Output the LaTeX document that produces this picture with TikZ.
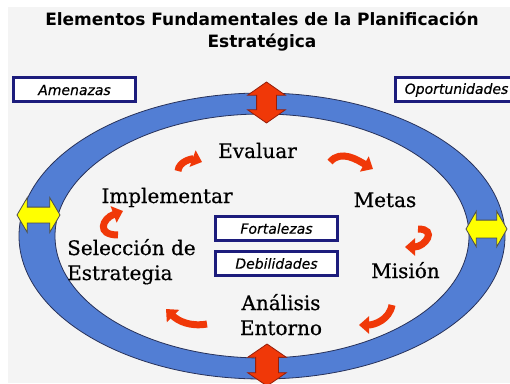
\documentclass[tikz,border=0pt]{standalone}
\usepackage{fontspec}
\setmainfont{DejaVu Serif}
\setsansfont{DejaVu Sans}
\newfontfamily\stagefont[FakeBold=0.6]{DejaVu Serif}
\newfontfamily\tagfont[FakeBold=0.4]{DejaVu Sans Oblique}
\usetikzlibrary{arrows.meta,positioning,shapes.arrows}
\definecolor{bggray}{RGB}{244,244,244}
\definecolor{ringblue}{RGB}{82,126,212}
\definecolor{ringedge}{RGB}{40,50,90}
\definecolor{tagblue}{RGB}{28,28,124}
\definecolor{turnred}{RGB}{240,56,8}
\definecolor{twinedge}{RGB}{150,30,10}
\definecolor{twinyellow}{RGB}{255,255,0}
\tikzset{
  heading/.style = {align=center, font=\sffamily\bfseries\fontsize{17}{22}\selectfont},
  tag/.style     = {draw=tagblue, line width=3pt, fill=white, minimum width=122pt, minimum height=24pt, inner sep=0pt, font=\tagfont\fontsize{14}{16}\selectfont},
  stage/.style   = {inner sep=0pt, align=left, font=\stagefont\fontsize{20}{25}\selectfont},
  turn/.style    = {draw=turnred, line width=7pt, -{Triangle[length=10pt,width=17pt]}},
  twin/.style    = {double arrow, inner xsep=0pt, line width=0.8pt},
}

\begin{document}
\begin{tikzpicture}[x=1pt,y=1pt]
    \useasboundingbox (0,0) rectangle (510,383);
    % Background
    \fill[white] (0,0) rectangle (510,383);
    \fill[bggray] (8,0) rectangle (510,376);

    % Ring
    \filldraw[even odd rule, fill=ringblue, draw=ringedge, line width=0.8pt]
      (262,147) ellipse [x radius=243, y radius=143]
      (262,147) ellipse [x radius=207, y radius=122];

    % Double arrows on the ring
    \node[twin, fill=turnred, draw=twinedge, rotate=90, minimum height=41pt, minimum width=37pt, inner ysep=9.5pt, double arrow head extend=9pt, double arrow tip angle=110] (topgate) at (266.5,280.5) {};
    \node[twin, fill=turnred, draw=twinedge, rotate=90, minimum height=42pt, minimum width=38pt, inner ysep=11pt, double arrow head extend=8pt, double arrow tip angle=111] (bottomgate) at (267,18) {};
    \node[twin, fill=twinyellow, draw=black!70, minimum height=43pt, minimum width=34pt, inner ysep=7.5pt, double arrow head extend=9.5pt, double arrow tip angle=119] (leftgate) at (38.5,168) {};
    \node[twin, fill=twinyellow, draw=black!70, minimum height=41pt, minimum width=35pt, inner ysep=8.5pt, double arrow head extend=9pt, double arrow tip angle=120] (rightgate) at (486.5,154) {};

    % Title
    \node[heading] (title) at (262,351) {Elementos Fundamentales de la Planificación\\Estratégica};

    % Tags
    \node[tag] (amenazas) at (74.5,293) {Amenazas};
    \node[tag] (oportunidades) at (456.5,293) {Oportunidades};
    \node[tag] (fortalezas) at (276.5,154.5) {Fortalezas};
    \node[tag, below=8pt of fortalezas] (debilidades) {Debilidades};

    % Stages of the cycle
    \node[stage, anchor=base] (evaluar) at (257.5,225) {Evaluar};
    \node[stage, anchor=base] (metas) at (385,176) {Metas};
    \node[stage, anchor=base] (mision) at (405.5,105) {Misión};
    \node[stage, anchor=base, align=center] (analisis) at (281,48) {Análisis\\Entorno};
    \node[stage, anchor=base west] (seleccion) at (67,103) {Selección de\\Estrategia};
    \node[stage, anchor=base] (implementar) at (167,180) {Implementar};

    % Turning arrows
    \coordinate (t1a) at (178,212); \coordinate (t1b) at (202,221);
    \coordinate (t2a) at (330,221); \coordinate (t2b) at (373,214);
    \coordinate (t3a) at (418,154); \coordinate (t3b) at (405,136);
    \coordinate (t4a) at (392,78);  \coordinate (t4b) at (359,58);
    \coordinate (t5a) at (207,59);  \coordinate (t5b) at (166,74);
    \coordinate (t6a) at (118,148); \coordinate (t6b) at (123,172);
    \draw[turn] (t1a) to[out=85,in=160] (t1b);
    \draw[turn] (t2a) to[out=50,in=150] (t2b);
    \draw[turn] (t3a) to[out=0,in=0,looseness=2.3] (t3b);
    \draw[turn] (t4a) to[out=-100,in=0] (t4b);
    \draw[turn] (t5a) to[out=190,in=-45] (t5b);
    \draw[turn] (t6a) to[out=180,in=200,looseness=2.3] (t6b);
\end{tikzpicture}
\end{document}
